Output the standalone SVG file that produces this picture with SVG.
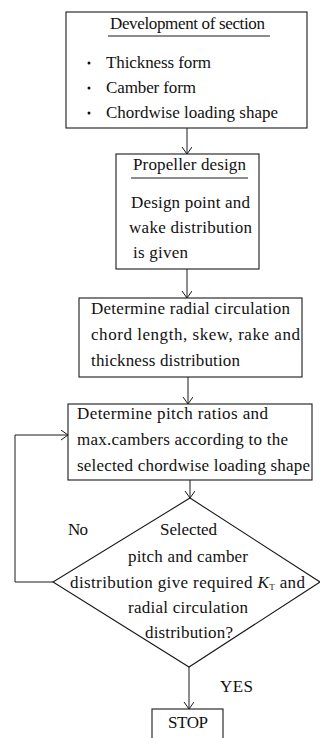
<svg xmlns="http://www.w3.org/2000/svg" width="320" height="738" viewBox="0 0 320 738">
<style>
.box{fill:#fff;stroke:#1a1a1a;stroke-width:1.1}
.t{font-family:"Liberation Serif","DejaVu Serif",serif;font-size:17px;fill:#111}
.c{stroke:#1a1a1a;stroke-width:1;fill:none}
.ul{stroke:#1a1a1a;stroke-width:1.2}
</style>
<defs>
<marker id="ah" markerUnits="userSpaceOnUse" markerWidth="12" markerHeight="12" refX="7" refY="5" orient="auto">
<path d="M0,0 L7,5 L0,10" fill="none" stroke="#1a1a1a" stroke-width="1"/>
</marker>
</defs>
<rect width="320" height="738" fill="#fff"/>
<g id="connectors">
<line class="c" x1="187" y1="128" x2="187" y2="154" marker-end="url(#ah)"/>
<line class="c" x1="187" y1="269" x2="187" y2="298" marker-end="url(#ah)"/>
<line class="c" x1="188" y1="377" x2="188" y2="404" marker-end="url(#ah)"/>
<line class="c" x1="190" y1="480" x2="190" y2="498" marker-end="url(#ah)"/>
<line class="c" x1="189" y1="667" x2="189" y2="709" marker-end="url(#ah)"/>
<polyline class="c" points="53,582 15,582 15,435 68,435" marker-end="url(#ah)"/>
<text class="t" x="68" y="535" textLength="20">No</text>
<text class="t" x="220" y="692" textLength="33">YES</text>
</g>
<g id="node-section">
<rect class="box" x="66" y="12" width="241" height="116"/>
<text class="t" x="110" y="29" textLength="155">Development of section</text>
<line class="ul" x1="108" y1="36" x2="270" y2="36"/>
<circle cx="89" cy="63" r="1.5" fill="#111"/>
<circle cx="89" cy="88" r="1.5" fill="#111"/>
<circle cx="89" cy="113" r="1.5" fill="#111"/>
<text class="t" x="106" y="68" textLength="105">Thickness form</text>
<text class="t" x="106" y="93" textLength="90">Camber form</text>
<text class="t" x="106" y="118" textLength="172">Chordwise loading shape</text>
</g>
<g id="node-propeller">
<rect class="box" x="116" y="154" width="143" height="115"/>
<text class="t" x="133" y="170" textLength="113">Propeller design</text>
<line class="ul" x1="131" y1="178" x2="248" y2="178"/>
<text class="t" x="131" y="208" textLength="119">Design point and</text>
<text class="t" x="129" y="233" textLength="123">wake distribution</text>
<text class="t" x="133" y="258" textLength="55">is given</text>
</g>
<g id="node-radial">
<rect class="box" x="79" y="298" width="223" height="79"/>
<text class="t" x="91" y="314" textLength="199">Determine radial circulation</text>
<text class="t" x="91" y="340" textLength="209">chord length, skew, rake and</text>
<text class="t" x="91" y="366" textLength="149">thickness distribution</text>
</g>
<g id="node-pitch">
<rect class="box" x="68" y="404" width="244" height="76"/>
<text class="t" x="77" y="419" textLength="191">Determine pitch ratios and</text>
<text class="t" x="77" y="445" textLength="211">max.cambers according to the</text>
<text class="t" x="77" y="471" textLength="233">selected chordwise loading shape</text>
</g>
<g id="node-decision">
<polygon class="box" points="190,498 320,582 189,667 53,582"/>
<text class="t" x="160" y="535" textLength="57">Selected</text>
<text class="t" x="128" y="562" textLength="120">pitch and camber</text>
<text class="t" x="70" y="588" textLength="235">distribution give required <tspan font-style="italic">K</tspan><tspan font-size="9" dy="2">T</tspan><tspan dy="-2"> and</tspan></text>
<text class="t" x="128" y="613" textLength="120">radial circulation</text>
<text class="t" x="145" y="638" textLength="88">distribution?</text>
</g>
<g id="node-stop">
<rect class="box" x="152" y="709" width="71" height="40"/>
<text class="t" x="168" y="728" textLength="40">STOP</text>
</g>
</svg>
